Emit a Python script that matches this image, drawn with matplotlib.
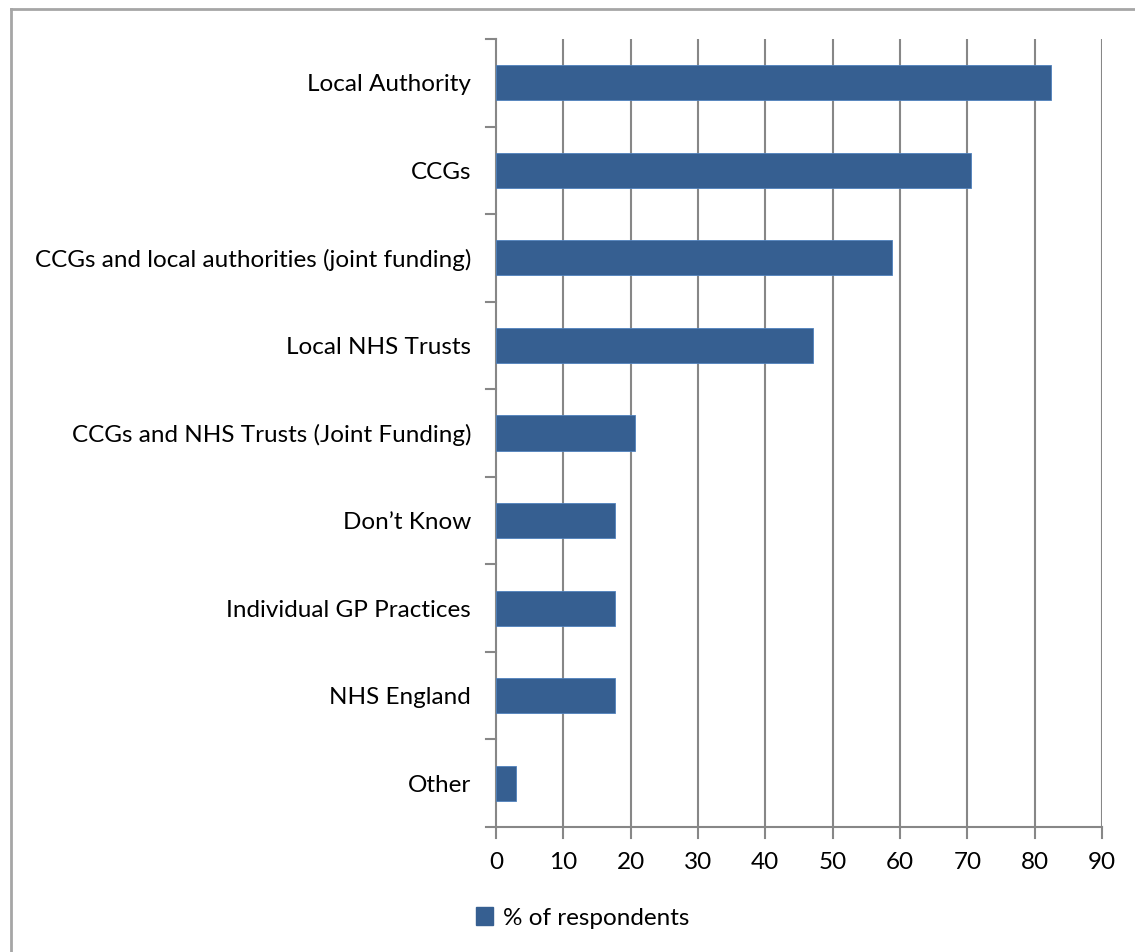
import matplotlib
matplotlib.use("Agg")
import matplotlib.pyplot as plt
from matplotlib.lines import Line2D
from matplotlib.patches import Patch

categories = [
    "Local Authority",
    "CCGs",
    "CCGs and local authorities (joint funding)",
    "Local NHS Trusts",
    "CCGs and NHS Trusts (Joint Funding)",
    "Don\u2019t Know",
    "Individual GP Practices",
    "NHS England",
    "Other",
]
values = [82.4, 70.6, 58.8, 47.1, 20.6, 17.6, 17.6, 17.6, 2.9]
x_ticks = [0, 10, 20, 30, 40, 50, 60, 70, 80, 90]
series_name = "% of respondents"

bar_color = "#365F91"
grid_color = "#878787"

plt.rcParams["font.family"] = ["Lato", "DejaVu Sans"]
FS = 17.5

fig = plt.figure(figsize=(11.35, 9.52), dpi=100)
ax = fig.add_axes([496 / 1135, 1 - 827 / 952, (1102 - 496) / 1135, (827 - 39) / 952])

n = len(categories)
ypos = list(range(n))[::-1]
ax.barh(ypos, values, height=0.4, color=bar_color, edgecolor="#4F81BD", linewidth=0.6,
        zorder=3, label=series_name)

ax.set_xlim(0, 90)
ax.set_ylim(-0.5, n - 0.5)
ax.set_xticks(x_ticks)
ax.set_xticklabels([str(t) for t in x_ticks], fontsize=FS)
ax.set_yticks(ypos)
ax.set_yticklabels(categories, fontsize=FS)
ax.tick_params(axis="y", length=0, pad=18)
ax.tick_params(axis="x", length=0, pad=18)

# vertical gridlines
for t in x_ticks[1:]:
    ax.axvline(t, color=grid_color, linewidth=1.5, zorder=1)

# category boundary ticks on the value axis
for b in [i - 0.5 for i in range(n + 1)]:
    ax.plot([-1.5, 0], [b, b], color=grid_color, linewidth=1.5, clip_on=False, zorder=2)
for t in x_ticks:
    ax.plot([t, t], [-0.5, -0.5 - 0.12], color=grid_color, linewidth=1.5, clip_on=False, zorder=2)

for side in ["top", "right"]:
    ax.spines[side].set_visible(False)
for side in ["left", "bottom"]:
    ax.spines[side].set_color(grid_color)
    ax.spines[side].set_linewidth(1.5)

handle = Patch(facecolor=bar_color, edgecolor=bar_color)
fig.legend([handle], [series_name], loc="center", bbox_to_anchor=(583 / 1135, 1 - 918 / 952),
           frameon=False, fontsize=FS, handlelength=0.7, handleheight=0.7, handletextpad=0.4)

# chart area border
fig.add_artist(Line2D([11 / 1135, 11 / 1135], [0, 1 - 9 / 952], transform=fig.transFigure,
                      color="#A6A6A6", linewidth=2))
fig.add_artist(Line2D([11 / 1135, 1], [1 - 9 / 952, 1 - 9 / 952], transform=fig.transFigure,
                      color="#A6A6A6", linewidth=2))

fig.savefig("out.png", dpi=100)
